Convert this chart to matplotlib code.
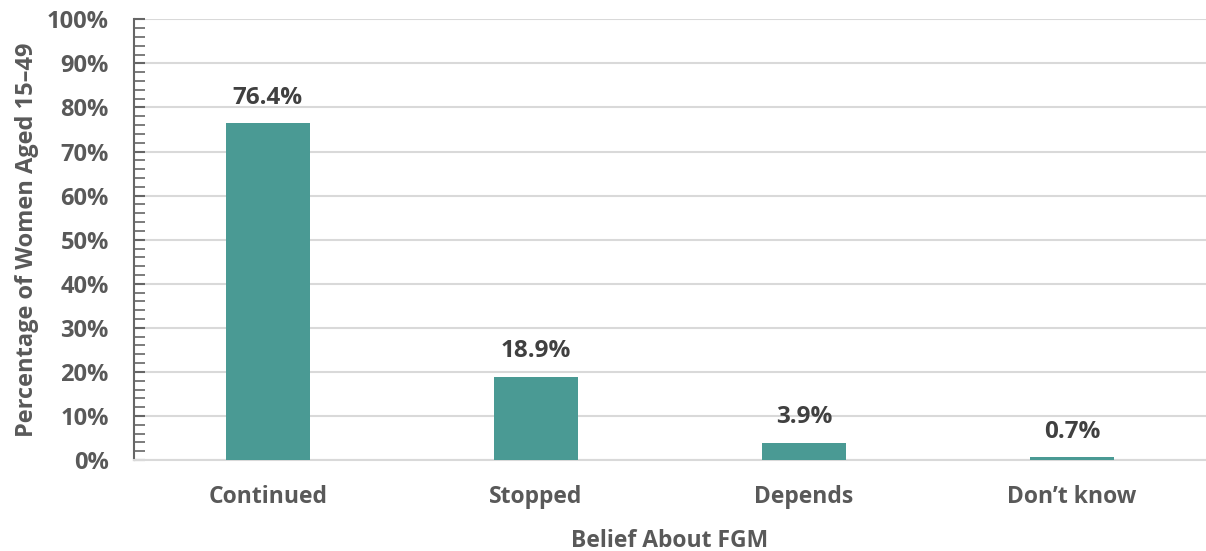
import matplotlib.pyplot as plt
from matplotlib.ticker import MultipleLocator, FuncFormatter

categories = ['Continued', 'Stopped', 'Depends', 'Don\u2019t know']
values = [76.4, 18.9, 3.9, 0.7]
value_labels = ['76.4%', '18.9%', '3.9%', '0.7%']

def main():
    plt.rcParams['font.family'] = ['Open Sans', 'DejaVu Sans']
    plt.rcParams['font.weight'] = 'bold'
    grey = '#595959'

    fig = plt.figure(figsize=(12.06, 5.51), dpi=100)
    ax = fig.add_axes([0.111, 0.165, 0.889, 0.8])

    x = range(len(categories))
    ax.bar(x, values, width=0.314, color='#4a9a94', zorder=3)
    for i, v in enumerate(values):
        ax.text(i, v + 4.4, value_labels[i], ha='center', va='baseline',
                fontsize=17.5, fontweight='bold', color='#404040')

    ax.set_xlim(-0.5, 3.5)
    ax.set_ylim(0, 100)
    ax.set_xticks(list(x))
    ax.set_xticklabels(categories)
    ax.yaxis.set_major_locator(MultipleLocator(10))
    ax.yaxis.set_minor_locator(MultipleLocator(2))
    ax.yaxis.set_major_formatter(FuncFormatter(lambda v, p: '%d%%' % v))

    ax.grid(axis='y', color='#d9d9d9', linewidth=1.5, zorder=0)
    for s in ['top', 'right']:
        ax.spines[s].set_visible(False)
    ax.spines['bottom'].set_color('#d9d9d9')
    ax.spines['bottom'].set_linewidth(1.5)
    ax.spines['left'].set_color('#666666')
    ax.spines['left'].set_linewidth(1.5)

    ax.tick_params(axis='x', length=0, pad=18, labelsize=16.5, labelcolor=grey)
    ax.tick_params(axis='y', which='major', direction='in', length=8, width=1.5,
                   color='#666666', labelsize=17, labelcolor=grey, pad=18)
    ax.tick_params(axis='y', which='minor', direction='in', length=8, width=1.2,
                   color='#666666')
    for lab in ax.get_xticklabels() + ax.get_yticklabels():
        lab.set_fontweight('bold')

    ax.set_xlabel('Belief About FGM', fontsize=16.5, fontweight='bold', color=grey, labelpad=14)
    ax.set_ylabel('Percentage of Women Aged 15\u201349', fontsize=17, fontweight='bold',
                  color=grey, labelpad=6)

    plt.savefig('out.png', dpi=100)


if __name__ == '__main__':
    main()
